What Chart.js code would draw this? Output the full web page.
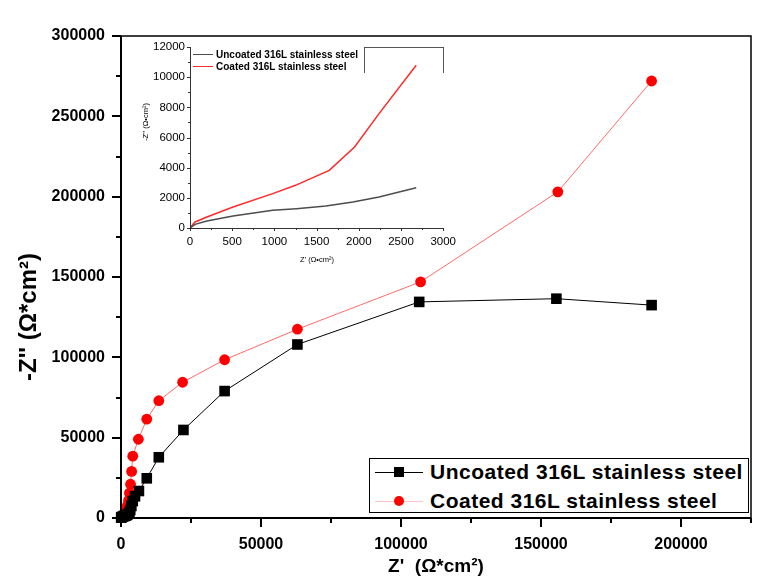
<!DOCTYPE html>
<html>
<head>
<meta charset="utf-8">
<script src="https://cdn.jsdelivr.net/npm/chart.js@4.4.0/dist/chart.umd.min.js"></script>
<style>
  body { margin: 0; background: #fff; }
  #wrap { position: relative; width: 779px; height: 583px; font-family: Arial, "Liberation Sans", sans-serif; }
  #main { position: absolute; left: 0; top: 0; }
  #inset { position: absolute; left: 130px; top: 30px; }
  .box { position: absolute; }
  .txt { position: absolute; white-space: nowrap; font-weight: bold; color: #000; transform: translateY(-50%); }
  .seg { position: absolute; height: 0; }
  .mk { position: absolute; }
</style>
</head>
<body>
<div id="wrap">
  <canvas id="main" width="779" height="583"></canvas>
  <canvas id="inset" width="330" height="245"></canvas>
  <div id="legends"></div>
</div>
<script>
// ===== DATA =====
const seriesNames = ['Uncoated 316L stainless steel', 'Coated 316L stainless steel'];

// main plot: Z' and -Z'' (Ohm*cm2)
const uncoatedZre = [60, 200, 510, 980, 1260, 1610, 1930, 2240, 2680, 3000, 3300, 3700, 4200, 5000, 6400, 9200, 13500, 22300, 37000, 63000, 106500, 155500, 189500];
const uncoatedZim = [240, 460, 800, 1170, 1280, 1460, 1720, 2050, 2670, 3300, 5000, 7500, 10500, 13500, 16800, 24700, 37800, 54800, 79000, 108000, 134500, 136500, 132500];
const coatedZre = [60, 200, 510, 980, 1250, 1650, 1950, 2240, 2680, 3000, 3400, 3800, 4200, 6200, 9200, 13500, 22000, 37000, 63000, 107000, 156000, 189500];
const coatedZim = [400, 730, 1390, 2280, 2830, 3820, 5370, 7580, 10790, 15500, 21000, 29000, 38500, 49000, 61500, 73000, 84500, 98500, 117500, 147000, 203000, 272000];

// inset: high-frequency part
const insetUncZre = [0, 60, 200, 510, 980, 1260, 1610, 1930, 2240, 2680];
const insetUncZim = [0, 240, 460, 800, 1170, 1280, 1460, 1720, 2050, 2670];
const insetCoatZre = [0, 60, 200, 510, 980, 1250, 1650, 1950, 2240, 2680];
const insetCoatZim = [0, 400, 730, 1390, 2280, 2830, 3820, 5370, 7580, 10790];

const xTicksMain = { min: 0, max: 225000, step: 25000, label: 50000 };
const yTicksMain = { min: 0, max: 300000, step: 25000, label: 50000 };
const xTicksInset = { min: 0, max: 3000, step: 250, label: 500 };
const yTicksInset = { min: 0, max: 12000, step: 1000, label: 2000 };

const xTitle = "Z'  (\u03A9*cm\u00B2)";
const yTitle = "-Z'' (\u03A9*cm\u00B2)";
const xTitleInset = "Z' (\u03A9\u2022cm\u00B2)";
const yTitleInset = "-Z'' (\u03A9\u2022cm\u00B2)";

const pts = (xs, ys) => xs.map((x, i) => ({ x, y: ys[i] }));
const FONT = 'Arial, "Liberation Sans", sans-serif';

// ===== MAIN CHART =====
const mainFrame = {
  id: 'mainFrame',
  afterDraw(chart) {
    const { ctx, chartArea: a, scales: { x, y } } = chart;
    ctx.save();
    ctx.strokeStyle = '#000';
    ctx.lineWidth = 1.5;
    ctx.beginPath();
    ctx.moveTo(a.left, a.top); ctx.lineTo(a.right, a.top); ctx.lineTo(a.right, a.bottom);
    ctx.stroke();
    ctx.lineWidth = 2;
    ctx.beginPath();
    ctx.moveTo(a.left, a.top); ctx.lineTo(a.left, a.bottom); ctx.lineTo(a.right, a.bottom);
    x.ticks.forEach(t => {
      const px = Math.round(x.getPixelForValue(t.value));
      const len = t.value % xTicksMain.label === 0 ? 9 : 5;
      ctx.moveTo(px, a.bottom); ctx.lineTo(px, a.bottom + len);
    });
    y.ticks.forEach(t => {
      const py = Math.round(y.getPixelForValue(t.value));
      const len = t.value % yTicksMain.label === 0 ? 9 : 5;
      ctx.moveTo(a.left, py); ctx.lineTo(a.left - len, py);
    });
    ctx.stroke();

    ctx.fillStyle = '#000';
    ctx.textAlign = 'center';
    ctx.textBaseline = 'middle';
    ctx.font = 'bold 19px ' + FONT;
    ctx.fillText(xTitle, (a.left + a.right) / 2, 567);
    ctx.translate(29, 317);
    ctx.rotate(-Math.PI / 2);
    ctx.font = 'bold 24px ' + FONT;
    ctx.fillText(yTitle, 0, 0);
    ctx.restore();
  }
};

new Chart(document.getElementById('main'), {
  type: 'scatter',
  data: {
    datasets: [
      { label: seriesNames[0], data: pts(uncoatedZre, uncoatedZim), showLine: true, borderColor: '#000', borderWidth: 1,
        pointStyle: 'rect', pointRadius: 7.5, pointBackgroundColor: '#000', pointBorderWidth: 0, clip: false },
      { label: seriesNames[1], data: pts(coatedZre, coatedZim), showLine: true, borderColor: '#ff6a6a', borderWidth: 1,
        pointStyle: 'circle', pointRadius: 5.4, pointBackgroundColor: '#ff0000', pointBorderWidth: 0, clip: false }
    ]
  },
  options: {
    responsive: false,
    animation: false,
    layout: { padding: { left: 0, right: 28, top: 36, bottom: 0 } },
    plugins: { legend: { display: false }, tooltip: { enabled: false } },
    scales: {
      x: {
        type: 'linear', min: xTicksMain.min, max: xTicksMain.max,
        afterFit: s => { s.height = 65; },
        grid: { display: false, drawTicks: true, tickLength: 9 },
        border: { display: false },
        ticks: { stepSize: xTicksMain.step, autoSkip: false, maxRotation: 0, padding: 8, color: '#000',
          font: { family: FONT, size: 16, weight: 'bold' },
          callback: v => v % xTicksMain.label === 0 ? String(v) : '' }
      },
      y: {
        type: 'linear', min: yTicksMain.min, max: yTicksMain.max,
        afterFit: s => { s.width = 121; },
        grid: { display: false, drawTicks: true, tickLength: 9 },
        border: { display: false },
        ticks: { stepSize: yTicksMain.step, autoSkip: false, padding: 7, color: '#000',
          font: { family: FONT, size: 16, weight: 'bold' },
          callback: v => v % yTicksMain.label === 0 ? String(v) : '' }
      }
    }
  },
  plugins: [mainFrame]
});

// ===== INSET =====
const insetFrame = {
  id: 'insetFrame',
  afterDraw(chart) {
    const { ctx, chartArea: a, scales: { x, y } } = chart;
    ctx.save();
    ctx.strokeStyle = '#333';
    ctx.lineWidth = 1;
    ctx.beginPath();
    ctx.moveTo(a.left + 0.5, a.top); ctx.lineTo(a.left + 0.5, a.bottom + 0.5); ctx.lineTo(a.right, a.bottom + 0.5);
    x.ticks.forEach(t => {
      const px = Math.round(x.getPixelForValue(t.value)) + 0.5;
      const len = t.value % xTicksInset.label === 0 ? 3 : 2;
      ctx.moveTo(px, a.bottom); ctx.lineTo(px, a.bottom + len);
    });
    y.ticks.forEach(t => {
      const py = Math.round(y.getPixelForValue(t.value)) + 0.5;
      const len = t.value % yTicksInset.label === 0 ? 3 : 2;
      ctx.moveTo(a.left, py); ctx.lineTo(a.left - len, py);
    });
    ctx.stroke();
    ctx.fillStyle = '#000';
    ctx.textAlign = 'center';
    ctx.textBaseline = 'middle';
    ctx.font = '7.5px ' + FONT;
    ctx.fillText(xTitleInset, 187, 230);
    ctx.translate(16, 92);
    ctx.rotate(-Math.PI / 2);
    ctx.fillText(yTitleInset, 0, 0);
    ctx.restore();
  }
};

new Chart(document.getElementById('inset'), {
  type: 'scatter',
  data: {
    datasets: [
      { label: seriesNames[0], data: pts(insetUncZre, insetUncZim), showLine: true, borderColor: '#4d4d4d', borderWidth: 1.5, pointRadius: 0 },
      { label: seriesNames[1], data: pts(insetCoatZre, insetCoatZim), showLine: true, borderColor: '#ff2a2a', borderWidth: 1.5, pointRadius: 0 }
    ]
  },
  options: {
    responsive: false,
    animation: false,
    layout: { padding: { left: 0, right: 16, top: 17, bottom: 0 } },
    plugins: { legend: { display: false }, tooltip: { enabled: false } },
    scales: {
      x: {
        type: 'linear', min: xTicksInset.min, max: xTicksInset.max,
        afterFit: s => { s.height = 47; },
        grid: { display: false, drawTicks: true, tickLength: 3 },
        border: { display: false },
        ticks: { stepSize: xTicksInset.step, autoSkip: false, maxRotation: 0, padding: 4, color: '#000',
          font: { family: FONT, size: 11.5 },
          callback: v => v % xTicksInset.label === 0 ? String(v) : '' }
      },
      y: {
        type: 'linear', min: yTicksInset.min, max: yTicksInset.max,
        afterFit: s => { s.width = 60; },
        grid: { display: false, drawTicks: true, tickLength: 3 },
        border: { display: false },
        ticks: { stepSize: yTicksInset.step, autoSkip: false, padding: 2, color: '#000',
          font: { family: FONT, size: 11.5 },
          callback: v => v % yTicksInset.label === 0 ? String(v) : '' }
      }
    }
  },
  plugins: [insetFrame]
});

// ===== LEGENDS =====
const leg = document.getElementById('legends');
leg.innerHTML = `
  <div class="box" style="left:369px;top:458px;width:378px;height:53px;border:1px solid #000;background:#fff"></div>
  <div class="seg" style="left:375px;top:472px;width:48px;border-top:1px solid #000"></div>
  <div class="mk" style="left:394px;top:467px;width:10px;height:10px;background:#000"></div>
  <div class="txt" style="left:430px;top:472px;font-size:21px;letter-spacing:0.5px">${seriesNames[0]}</div>
  <div class="seg" style="left:375px;top:501px;width:48px;border-top:1px solid #ffc4c4"></div>
  <div class="mk" style="left:394px;top:496px;width:10px;height:10px;background:#ff0000;border-radius:50%"></div>
  <div class="txt" style="left:430px;top:501px;font-size:21px;letter-spacing:0.5px">${seriesNames[1]}</div>

  <div class="box" style="left:364px;top:47px;width:78px;height:25px;border:1px solid #555;border-bottom:none"></div>
  <div class="seg" style="left:193px;top:54px;width:20px;border-top:1.5px solid #4d4d4d"></div>
  <div class="txt" style="left:216px;top:54px;font-size:10px">${seriesNames[0]}</div>
  <div class="seg" style="left:193px;top:66px;width:20px;border-top:1.5px solid #ff2a2a"></div>
  <div class="txt" style="left:216px;top:66px;font-size:10px">${seriesNames[1]}</div>
`;
</script>
</body>
</html>
